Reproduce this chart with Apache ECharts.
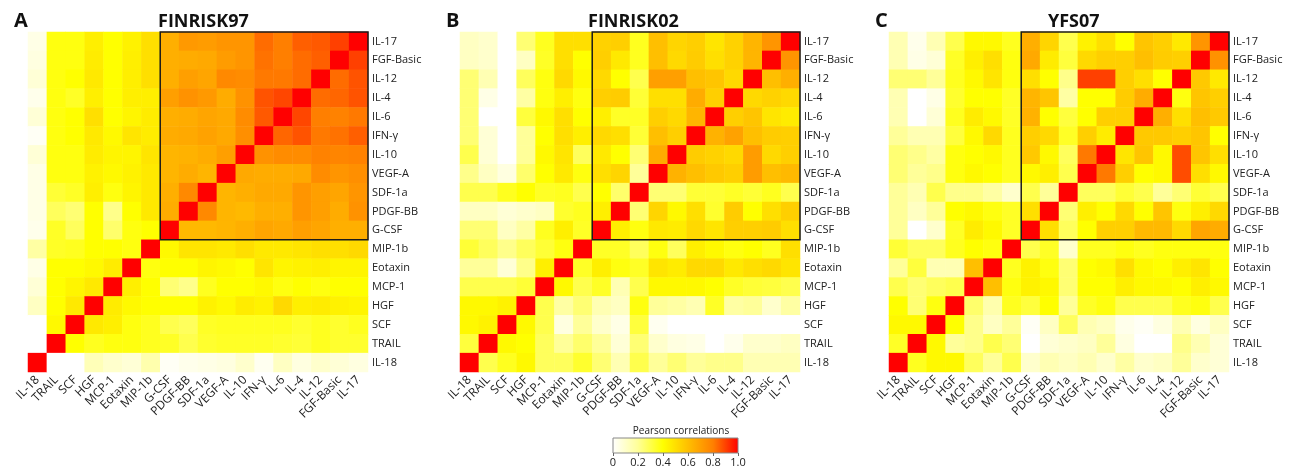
<!DOCTYPE html>
<html>
<head>
<meta charset="utf-8">
<script src="https://cdn.jsdelivr.net/npm/echarts@6/dist/echarts.min.js"></script>
<style>
  html, body { margin: 0; padding: 0; background: #fff; }
  #main { width: 1300px; height: 470px; }
</style>
</head>
<body>
<div id="main"></div>
<script>
// cytokine order, left to right on x and bottom to top on y
const cytokines = ['IL-18', 'TRAIL', 'SCF', 'HGF', 'MCP-1', 'Eotaxin', 'MIP-1b', 'G-CSF', 'PDGF-BB',
  'SDF-1a', 'VEGF-A', 'IL-10', 'IFN-γ', 'IL-6', 'IL-4', 'IL-12', 'FGF-Basic', 'IL-17']

const panelTitles = ['FINRISK97', 'FINRISK02', 'YFS07']
const panelLetters = ['A', 'B', 'C']
const colorbarTicks = [0, 0.2, 0.4, 0.6, 0.8, 1.0]

// rows listed top (IL-17) to bottom (IL-18), columns IL-18 ... IL-17
const finrisk97 = [
  [0.05, 0.38, 0.38, 0.45, 0.40, 0.44, 0.50, 0.65, 0.72, 0.71, 0.73, 0.73, 0.83, 0.80, 0.85, 0.86, 0.90, 1.00],
  [0.06, 0.38, 0.38, 0.46, 0.40, 0.45, 0.50, 0.65, 0.66, 0.67, 0.71, 0.73, 0.82, 0.80, 0.83, 0.85, 1.00, 0.90],
  [0.08, 0.38, 0.40, 0.47, 0.40, 0.45, 0.50, 0.65, 0.70, 0.68, 0.77, 0.76, 0.81, 0.81, 0.83, 1.00, 0.83, 0.87],
  [0.04, 0.38, 0.35, 0.45, 0.40, 0.45, 0.45, 0.70, 0.74, 0.72, 0.66, 0.74, 0.87, 0.89, 1.00, 0.83, 0.84, 0.87],
  [0.08, 0.38, 0.40, 0.50, 0.40, 0.43, 0.46, 0.65, 0.66, 0.68, 0.67, 0.76, 0.86, 1.00, 0.89, 0.80, 0.79, 0.81],
  [0.02, 0.38, 0.40, 0.47, 0.42, 0.48, 0.46, 0.66, 0.67, 0.69, 0.67, 0.75, 1.00, 0.84, 0.87, 0.81, 0.82, 0.85],
  [0.08, 0.38, 0.38, 0.46, 0.43, 0.43, 0.48, 0.63, 0.64, 0.66, 0.70, 1.00, 0.74, 0.76, 0.76, 0.79, 0.78, 0.79],
  [0.05, 0.38, 0.38, 0.44, 0.42, 0.44, 0.47, 0.63, 0.66, 0.63, 1.00, 0.67, 0.66, 0.66, 0.67, 0.76, 0.73, 0.75],
  [0.05, 0.33, 0.35, 0.45, 0.38, 0.43, 0.47, 0.65, 0.77, 1.00, 0.63, 0.65, 0.67, 0.67, 0.73, 0.70, 0.68, 0.73],
  [0.05, 0.28, 0.25, 0.40, 0.22, 0.40, 0.47, 0.66, 1.00, 0.77, 0.63, 0.62, 0.65, 0.65, 0.73, 0.70, 0.66, 0.74],
  [0.04, 0.35, 0.28, 0.40, 0.26, 0.38, 0.40, 1.00, 0.62, 0.62, 0.63, 0.65, 0.68, 0.67, 0.70, 0.68, 0.65, 0.65],
  [0.18, 0.35, 0.36, 0.40, 0.40, 0.38, 1.00, 0.42, 0.48, 0.48, 0.47, 0.50, 0.47, 0.47, 0.48, 0.50, 0.50, 0.52],
  [0.05, 0.40, 0.40, 0.42, 0.46, 1.00, 0.38, 0.40, 0.40, 0.43, 0.42, 0.40, 0.48, 0.43, 0.44, 0.45, 0.43, 0.43],
  [0.08, 0.40, 0.43, 0.47, 1.00, 0.45, 0.40, 0.25, 0.22, 0.36, 0.40, 0.40, 0.42, 0.38, 0.40, 0.38, 0.40, 0.40],
  [0.12, 0.40, 0.47, 1.00, 0.46, 0.42, 0.40, 0.40, 0.40, 0.44, 0.42, 0.46, 0.44, 0.52, 0.45, 0.46, 0.44, 0.43],
  [0.00, 0.42, 1.00, 0.47, 0.45, 0.38, 0.36, 0.30, 0.28, 0.35, 0.36, 0.36, 0.36, 0.36, 0.34, 0.36, 0.34, 0.36],
  [0.00, 1.00, 0.40, 0.36, 0.38, 0.38, 0.36, 0.35, 0.30, 0.34, 0.35, 0.35, 0.35, 0.34, 0.33, 0.36, 0.34, 0.34],
  [1.00, 0.00, 0.00, 0.14, 0.10, 0.08, 0.16, 0.02, 0.04, 0.05, 0.06, 0.10, 0.03, 0.12, 0.06, 0.10, 0.08, 0.06]
]

const finrisk02 = [
  [0.12, 0.10, 0.00, 0.25, 0.36, 0.50, 0.50, 0.54, 0.55, 0.36, 0.60, 0.53, 0.55, 0.48, 0.54, 0.63, 0.73, 1.00],
  [0.12, 0.10, 0.00, 0.12, 0.35, 0.50, 0.40, 0.55, 0.47, 0.36, 0.60, 0.52, 0.56, 0.50, 0.54, 0.63, 1.00, 0.73],
  [0.25, 0.15, 0.00, 0.28, 0.38, 0.52, 0.42, 0.52, 0.40, 0.30, 0.70, 0.70, 0.60, 0.58, 0.52, 1.00, 0.60, 0.65],
  [0.25, 0.05, 0.00, 0.18, 0.38, 0.45, 0.38, 0.55, 0.56, 0.33, 0.50, 0.50, 0.66, 0.55, 1.00, 0.52, 0.54, 0.52],
  [0.25, 0.00, 0.00, 0.32, 0.42, 0.50, 0.40, 0.45, 0.35, 0.35, 0.55, 0.52, 0.63, 1.00, 0.55, 0.58, 0.48, 0.46],
  [0.25, 0.08, 0.00, 0.20, 0.40, 0.50, 0.45, 0.52, 0.50, 0.33, 0.60, 0.55, 1.00, 0.64, 0.69, 0.60, 0.56, 0.55],
  [0.30, 0.08, 0.00, 0.20, 0.42, 0.48, 0.28, 0.47, 0.40, 0.25, 0.66, 1.00, 0.56, 0.54, 0.52, 0.71, 0.52, 0.55],
  [0.22, 0.12, 0.06, 0.26, 0.40, 0.47, 0.38, 0.50, 0.53, 0.20, 1.00, 0.64, 0.60, 0.57, 0.55, 0.71, 0.60, 0.62],
  [0.30, 0.30, 0.36, 0.40, 0.35, 0.36, 0.30, 0.40, 0.26, 1.00, 0.25, 0.25, 0.33, 0.33, 0.35, 0.33, 0.36, 0.30],
  [0.12, 0.12, 0.08, 0.10, 0.12, 0.34, 0.36, 0.45, 1.00, 0.25, 0.53, 0.42, 0.50, 0.34, 0.56, 0.40, 0.50, 0.55],
  [0.25, 0.25, 0.12, 0.18, 0.36, 0.45, 0.35, 1.00, 0.45, 0.38, 0.47, 0.46, 0.52, 0.48, 0.55, 0.55, 0.56, 0.50],
  [0.33, 0.28, 0.22, 0.28, 0.33, 0.38, 1.00, 0.35, 0.35, 0.28, 0.38, 0.28, 0.45, 0.42, 0.38, 0.40, 0.36, 0.50],
  [0.20, 0.20, 0.08, 0.22, 0.45, 1.00, 0.35, 0.45, 0.38, 0.35, 0.48, 0.46, 0.52, 0.52, 0.47, 0.50, 0.52, 0.48],
  [0.30, 0.30, 0.30, 0.33, 1.00, 0.42, 0.30, 0.35, 0.15, 0.30, 0.42, 0.42, 0.42, 0.40, 0.35, 0.33, 0.32, 0.30],
  [0.42, 0.42, 0.44, 1.00, 0.30, 0.18, 0.25, 0.15, 0.12, 0.38, 0.20, 0.18, 0.15, 0.35, 0.18, 0.20, 0.10, 0.18],
  [0.42, 0.44, 1.00, 0.42, 0.30, 0.06, 0.20, 0.10, 0.05, 0.32, 0.03, 0.00, 0.00, 0.00, 0.00, 0.00, 0.00, 0.00],
  [0.32, 1.00, 0.42, 0.40, 0.28, 0.20, 0.26, 0.20, 0.08, 0.25, 0.10, 0.06, 0.05, 0.00, 0.04, 0.10, 0.10, 0.12],
  [1.00, 0.30, 0.36, 0.42, 0.28, 0.28, 0.34, 0.25, 0.15, 0.30, 0.20, 0.25, 0.20, 0.22, 0.22, 0.15, 0.15, 0.15]
]

const yfs07 = [
  [0.15, 0.04, 0.15, 0.30, 0.42, 0.42, 0.36, 0.65, 0.53, 0.30, 0.44, 0.50, 0.40, 0.58, 0.55, 0.47, 0.73, 1.00],
  [0.15, 0.05, 0.08, 0.35, 0.45, 0.50, 0.38, 0.67, 0.46, 0.32, 0.52, 0.55, 0.55, 0.60, 0.56, 0.55, 1.00, 0.74],
  [0.25, 0.25, 0.20, 0.36, 0.42, 0.48, 0.38, 0.50, 0.40, 0.22, 0.90, 0.90, 0.55, 0.50, 0.40, 1.00, 0.57, 0.47],
  [0.15, 0.00, 0.05, 0.34, 0.40, 0.40, 0.35, 0.63, 0.58, 0.18, 0.40, 0.40, 0.56, 0.66, 1.00, 0.38, 0.58, 0.55],
  [0.15, 0.00, 0.08, 0.36, 0.46, 0.42, 0.35, 0.64, 0.40, 0.32, 0.40, 0.55, 0.55, 1.00, 0.65, 0.50, 0.60, 0.57],
  [0.20, 0.15, 0.15, 0.32, 0.42, 0.52, 0.36, 0.55, 0.52, 0.35, 0.55, 0.46, 1.00, 0.57, 0.57, 0.55, 0.58, 0.40],
  [0.25, 0.22, 0.18, 0.38, 0.40, 0.42, 0.36, 0.57, 0.42, 0.28, 0.81, 1.00, 0.48, 0.58, 0.42, 0.88, 0.58, 0.50],
  [0.25, 0.20, 0.22, 0.38, 0.42, 0.40, 0.36, 0.42, 0.45, 0.30, 1.00, 0.81, 0.55, 0.40, 0.42, 0.88, 0.50, 0.42],
  [0.20, 0.15, 0.30, 0.22, 0.22, 0.18, 0.10, 0.30, 0.20, 1.00, 0.28, 0.28, 0.33, 0.30, 0.20, 0.25, 0.33, 0.30],
  [0.20, 0.12, 0.20, 0.40, 0.42, 0.38, 0.35, 0.50, 1.00, 0.25, 0.45, 0.40, 0.52, 0.40, 0.58, 0.38, 0.45, 0.52],
  [0.20, 0.00, 0.10, 0.35, 0.46, 0.42, 0.35, 1.00, 0.50, 0.28, 0.40, 0.55, 0.55, 0.62, 0.62, 0.52, 0.68, 0.66],
  [0.33, 0.28, 0.28, 0.36, 0.40, 0.38, 1.00, 0.30, 0.35, 0.10, 0.36, 0.36, 0.38, 0.36, 0.38, 0.38, 0.38, 0.38],
  [0.20, 0.32, 0.15, 0.15, 0.60, 1.00, 0.36, 0.44, 0.38, 0.25, 0.40, 0.42, 0.50, 0.42, 0.40, 0.45, 0.48, 0.40],
  [0.30, 0.25, 0.28, 0.30, 1.00, 0.60, 0.38, 0.44, 0.42, 0.25, 0.40, 0.40, 0.45, 0.42, 0.42, 0.40, 0.45, 0.42],
  [0.40, 0.25, 0.38, 1.00, 0.26, 0.16, 0.36, 0.32, 0.40, 0.20, 0.35, 0.38, 0.30, 0.30, 0.30, 0.36, 0.38, 0.30],
  [0.42, 0.42, 1.00, 0.40, 0.22, 0.12, 0.20, 0.02, 0.12, 0.28, 0.15, 0.12, 0.04, 0.02, 0.06, 0.15, 0.06, 0.12],
  [0.35, 1.00, 0.42, 0.20, 0.22, 0.30, 0.25, 0.00, 0.08, 0.10, 0.12, 0.20, 0.06, 0.00, 0.00, 0.22, 0.15, 0.08],
  [1.00, 0.36, 0.42, 0.42, 0.28, 0.20, 0.30, 0.10, 0.15, 0.12, 0.15, 0.10, 0.18, 0.10, 0.12, 0.20, 0.10, 0.08]
]

// boxed block: from G-CSF to IL-17 on both axes
const boxFrom = 'G-CSF'
const boxTo = 'IL-17'

const heatColors = ['#ffffff', '#ffff99', '#ffff00', '#ffbf00', '#ff7f00', '#ff0000']
const labelFont = 'Open Sans'

const matrices = [finrisk97, finrisk02, yfs07]
const gridLefts = [28, 460, 889]
const n = cytokines.length

function toCells(rows) {
  const out = []
  rows.forEach((row, r) => {
    row.forEach((v, c) => out.push([c, n - 1 - r, v]))
  })
  return out
}

const chart = echarts.init(document.getElementById('main'))

const grids = gridLefts.map(l => ({ left: l, top: 32, width: 340, height: 340 }))
// colorbar grid
grids.push({
  left: 613, top: 438, width: 125, height: 15, show: true,
  borderColor: '#888', borderWidth: 1,
  backgroundColor: {
    type: 'linear', x: 0, y: 0, x2: 1, y2: 0,
    colorStops: heatColors.map((c, i) => ({ offset: i / (heatColors.length - 1), color: c }))
  }
})

const xAxes = gridLefts.map((l, i) => ({
  type: 'category', gridIndex: i, data: cytokines,
  axisLine: { show: false }, axisTick: { show: false }, splitLine: { show: false },
  axisLabel: { rotate: 45, interval: 0, margin: 6, fontSize: 12, color: '#222', fontFamily: labelFont }
}))
xAxes.push({
  type: 'value', gridIndex: 3, min: 0, max: 1, interval: 0.2,
  axisLine: { show: false }, splitLine: { show: false },
  axisTick: { show: true, length: 3, lineStyle: { color: '#666' } },
  axisLabel: { margin: 4, fontSize: 11, color: '#222', fontFamily: labelFont,
    formatter: v => (v === 1 ? '1.0' : String(Math.round(v * 10) / 10)) }
})

const yAxes = gridLefts.map((l, i) => ({
  type: 'category', gridIndex: i, data: cytokines, position: 'right',
  axisLine: { show: false }, axisTick: { show: false }, splitLine: { show: false },
  axisLabel: { interval: 0, margin: 4, fontSize: 11, color: '#222', fontFamily: labelFont }
}))
yAxes.push({ type: 'value', gridIndex: 3, show: false, min: 0, max: 1 })

const series = matrices.map((m, i) => ({
  type: 'heatmap', xAxisIndex: i, yAxisIndex: i, data: toCells(m),
  emphasis: { disabled: true }, silent: true, animation: false
}))

matrices.forEach((m, i) => {
  series.push({
    type: 'custom', xAxisIndex: i, yAxisIndex: i, silent: true, animation: false,
    data: [[cytokines.indexOf(boxFrom), cytokines.indexOf(boxFrom), cytokines.indexOf(boxTo), cytokines.indexOf(boxTo)]],
    encode: { x: [0, 2], y: [1, 3] },
    renderItem: function (params, api) {
      const a = api.coord([api.value(0), api.value(1)])
      const b = api.coord([api.value(2), api.value(3)])
      const s = api.size([1, 1])
      return {
        type: 'rect',
        shape: { x: a[0] - s[0] / 2, y: b[1] - s[1] / 2, width: b[0] - a[0] + s[0], height: a[1] - b[1] + s[1] },
        style: { fill: 'none', stroke: '#1a1a1a', lineWidth: 1.5 }
      }
    }
  })
})

const titles = []
panelTitles.forEach((t, i) => {
  titles.push({ text: panelLetters[i], left: gridLefts[i] - 19, top: 6,
    textStyle: { fontSize: 20, fontWeight: 'bold', color: '#111', fontFamily: labelFont } })
})
titles.push({ text: panelTitles[0], left: 153, top: 8, textStyle: { fontSize: 18, fontWeight: 'bold', color: '#111', fontFamily: labelFont } })
titles.push({ text: panelTitles[1], left: 583, top: 8, textStyle: { fontSize: 18, fontWeight: 'bold', color: '#111', fontFamily: labelFont } })
titles.push({ text: panelTitles[2], left: 1043, top: 8, textStyle: { fontSize: 18, fontWeight: 'bold', color: '#111', fontFamily: labelFont } })
titles.push({ text: 'Pearson correlations', left: 676, top: 421, textAlign: 'center',
  textStyle: { fontSize: 10, fontWeight: 'normal', color: '#222', fontFamily: labelFont } })

chart.setOption({
  backgroundColor: '#fff',
  animation: false,
  title: titles,
  grid: grids,
  xAxis: xAxes,
  yAxis: yAxes,
  visualMap: {
    type: 'continuous', show: false, min: 0, max: 1, seriesIndex: [0, 1, 2],
    inRange: { color: heatColors }
  },
  series: series
})
</script>
</body>
</html>
